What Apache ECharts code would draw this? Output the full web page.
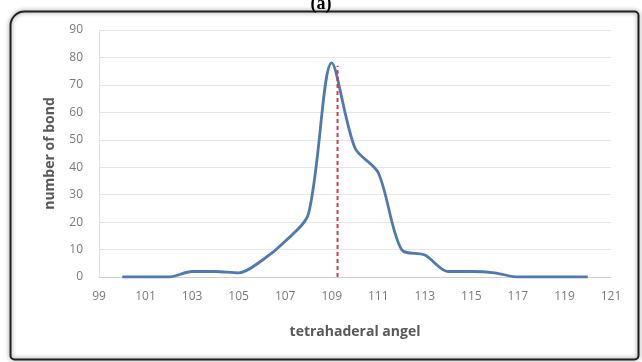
<!DOCTYPE html>
<html>
<head>
<meta charset="utf-8">
<script src="https://cdn.jsdelivr.net/npm/echarts@6/dist/echarts.min.js"></script>
<style>
html,body{margin:0;padding:0;background:#fff;}
#chart{width:642px;height:362px;}
</style>
</head>
<body>
<div id="chart"></div>
<script>
var angles = [100,101,102,103,104,105,106,107,108,109,110,111,112,113,114,115,116,117,118,119,120];
var bonds  = [0,0,0,2,2,1.5,6,13,23,78,47,38,10,8,2,2,1.5,0,0,0,0];
var meanAngle = 109.25;
var meanTop = 77;
var xTicks = {min:99, max:121, interval:2};
var yTicks = {min:0, max:90, interval:10};

var chart = echarts.init(document.getElementById('chart'));
var lineData = angles.map(function(a,i){return [a,bonds[i]];});
chart.setOption({
  backgroundColor:'#fff',
  animation:false,
  title:{text:'(a)',left:'center',top:-10,textStyle:{fontFamily:'Liberation Serif',fontWeight:'bold',fontSize:18,color:'#000'}},
  graphic:[{
    type:'rect',left:8,top:9,shape:{width:628,height:348,r:[14,4,4,4]},
    style:{fill:'none',stroke:'#222',lineWidth:2,shadowBlur:4,shadowColor:'rgba(0,0,0,0.5)'}
  }],
  grid:{left:99,right:31,top:30,bottom:85},
  xAxis:{
    type:'value',min:xTicks.min,max:xTicks.max,interval:xTicks.interval,
    name:'tetrahaderal angel',nameLocation:'middle',nameGap:48,
    nameTextStyle:{fontFamily:'Open Sans',fontWeight:'bold',fontSize:14,color:'#595959'},
    axisLine:{show:true,lineStyle:{color:'#d0d0d0'}},
    axisTick:{show:false},
    splitLine:{show:false},
    axisLabel:{fontFamily:'Open Sans',fontSize:12,color:'#7a7a7a',margin:14}
  },
  yAxis:{
    type:'value',min:yTicks.min,max:yTicks.max,interval:yTicks.interval,
    name:'number of bond',nameLocation:'middle',nameGap:42,
    nameTextStyle:{fontFamily:'Open Sans',fontWeight:'bold',fontSize:14,color:'#595959'},
    axisLine:{show:true,lineStyle:{color:'#e0e0e0'}},
    axisTick:{show:false},
    splitLine:{lineStyle:{color:'#e6e6e6'}},
    axisLabel:{fontFamily:'Open Sans',fontSize:12,color:'#7a7a7a',margin:16}
  },
  series:[
    {type:'line',data:lineData,smooth:0.3,showSymbol:false,symbol:'none',
     lineStyle:{color:'#5079b0',width:2.8}},
    {type:'line',data:[[meanAngle,0],[meanAngle,meanTop]],showSymbol:false,symbol:'none',
     lineStyle:{color:'#d63a4a',width:2,type:[4,3]}}
  ]
});
</script>
</body>
</html>
